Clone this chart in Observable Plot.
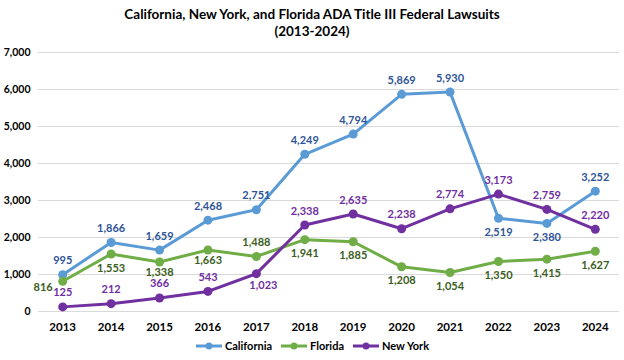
<!DOCTYPE html>
<html><head><meta charset="utf-8">
<script src="https://cdn.jsdelivr.net/npm/d3@7"></script>
<script src="https://cdn.jsdelivr.net/npm/@observablehq/plot@0.6"></script>
<style>
body{margin:0;background:#fff;font-family:Lato,"Open Sans",sans-serif;}
#wrap{width:624px;height:360px;position:relative;overflow:hidden;}
#title{position:absolute;top:6px;left:0;width:624px;text-align:center;font-weight:bold;font-size:13.5px;line-height:17px;color:#000;}
#chart{position:absolute;top:40px;left:0;}
#legend{position:absolute;top:339px;left:0;width:624px;text-align:center;font-size:11px;font-weight:bold;color:#000;}
.li{display:inline-flex;align-items:center;margin:0 4px;}
.li svg{margin-right:2px;}
</style></head><body>
<div id="wrap">
<div id="title">California, New York, and Florida ADA Title III Federal Lawsuits<br>(2013-2024)</div>
<div id="chart"></div>
<div id="legend"></div>
</div>
<script>
const years = [2013,2014,2015,2016,2017,2018,2019,2020,2021,2022,2023,2024];
const california = [995,1866,1659,2468,2751,4249,4794,5869,5930,2519,2380,3252];
const florida = [816,1553,1338,1663,1488,1941,1885,1208,1054,1350,1415,1627];
const newYork = [125,212,366,543,1023,2338,2635,2238,2774,3173,2759,2220];
const yTicks = [0,1000,2000,3000,4000,5000,6000,7000];

// label placement (style, not data)
const calPos = ["a","a","a","a","a","a","a","a","a","b","b","a"];
const flaPos = ["l","b","bs","bs","a","b","b","b","b","b","b","b"];
const nyPos  = ["a","a","a","a","br","a","a","a","a","a","a","a"];

const series = [
  {name:"California", values:california, pos:calPos, line:"#5B9BD5", label:"#2F5597"},
  {name:"Florida", values:florida, pos:flaPos, line:"#70AD47", label:"#3B5E23"},
  {name:"New York", values:newYork, pos:nyPos, line:"#7030A0", label:"#7030A0"}
];
const rows = series.flatMap(s => years.map((y,i)=>({series:s.name, year:y, value:s.values[i], pos:s.pos[i], line:s.line, label:s.label})));
const fmt = d3.format(",");

const labelMarks = [];
for (const [p, dx, dy, anchor] of [["a",0,-14,"middle"],["b",0,14,"middle"],["bs",0,10.5,"middle"],["l",-10,6,"end"],["br",7,12,"middle"]]) {
  labelMarks.push(Plot.text(rows.filter(d=>d.pos===p), {x:"year", y:"value", text:d=>fmt(d.value), fill:d=>d.label, dx, dy, textAnchor:anchor, fontSize:11, fontWeight:"bold"}));
}

const chart = Plot.plot({
  width:624, height:295,
  marginLeft:38, marginRight:5, marginTop:12, marginBottom:24,
  style:{fontFamily:"Lato, 'Open Sans', sans-serif", fontSize:"11px"},
  x:{domain:[2012.5,2024.5], label:null},
  y:{domain:[0,7000], label:null},
  marks:[
    Plot.ruleY(yTicks, {stroke:"#d9d9d9", strokeWidth:1}),
    Plot.axisX({ticks:years, tickFormat:d=>String(d), tickSize:0, fontWeight:"bold", fontSize:11.5, fill:"#000", tickPadding:11, label:null}),
    Plot.axisY({ticks:yTicks, tickFormat:fmt, tickSize:0, fontWeight:"bold", fontSize:10.5, fill:"#000", tickPadding:8, label:null}),
    ...series.map(s => Plot.line(rows.filter(d=>d.series===s.name), {x:"year", y:"value", stroke:s.line, strokeWidth:3})),
    ...series.map(s => Plot.dot(rows.filter(d=>d.series===s.name), {x:"year", y:"value", fill:s.line, r:4.5})),
    ...labelMarks
  ]
});
document.getElementById("chart").appendChild(chart);

const lg = document.getElementById("legend");
for (const s of series) {
  const el = document.createElement("span");
  el.className = "li";
  el.innerHTML = `<svg width="28" height="10"><line x1="1" y1="5" x2="27" y2="5" stroke="${s.line}" stroke-width="3"/><circle cx="14" cy="5" r="3.5" fill="${s.line}"/></svg>${s.name}`;
  lg.appendChild(el);
}
</script>
</body></html>
